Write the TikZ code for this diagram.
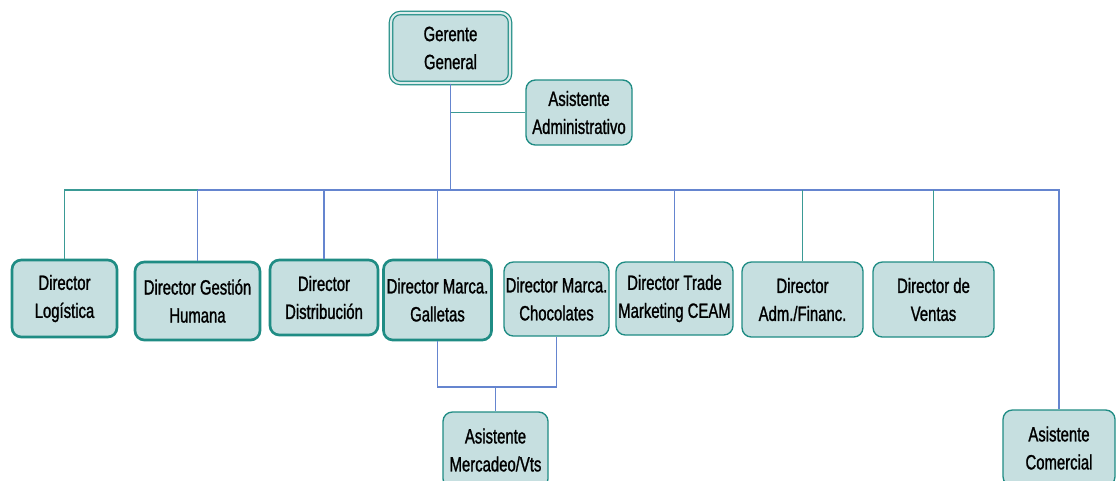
\documentclass[tikz,border=0pt]{standalone}
\usepackage{fontspec}
\setmainfont[FakeStretch=0.72,FakeBold=1.2]{Liberation Sans}
\definecolor{tealc}{HTML}{1F8C84}
\definecolor{linet}{HTML}{3A9A95}
\definecolor{lineb}{HTML}{6585CF}
\definecolor{boxc}{HTML}{C6DFE0}
\tikzset{
  box/.style={draw=tealc, fill=boxc, rounded corners=7pt, line width=1pt, align=center, inner sep=0pt,
    font=\fontsize{15.5}{21}\selectfont},
  thick box/.style={box, line width=2pt},
  sz/.style 2 args={minimum width={#1*0.75pt}, minimum height={#2*0.75pt}},
  tl/.style={draw=linet, line width=0.8pt},
  bl/.style={draw=lineb, line width=0.8pt},
}
\begin{document}
\begin{tikzpicture}[x=0.75pt,y=-0.75pt]
\clip (0,0) rectangle (1116,480);
\fill[white] (0,0) rectangle (1116,480);
% nodes
\node[box, sz={119}{70}, draw=tealc, double=boxc!60!white, double distance=1.6pt, line width=0.9pt] (gg) at (450.5,48) {Gerente\\General};
\node[box, sz={106}{65}] (aa) at (579,112.5) {Asistente\\Administrativo};
\node[thick box, sz={105}{77}] (d1) at (64.5,298.5) {Director\\Logística};
\node[thick box, sz={125}{78}] (d2) at (197.5,301) {Director Gestión\\Humana};
\node[thick box, sz={108}{75}] (d3) at (324,297.5) {Director\\Distribución};
\node[thick box, sz={108}{80}] (d4) at (437.5,300) {Director Marca.\\Galletas};
\node[box, sz={105}{74}] (d5) at (556.5,299) {Director Marca.\\Chocolates};
\node[box, sz={117}{73}] (d6) at (674.5,298.5) {Director Trade\\Marketing CEAM};
\node[box, sz={121}{75}] (d7) at (802.5,299.5) {Director\\Adm./Financ.};
\node[box, sz={121}{75}] (d8) at (933.5,299.5) {Director de\\Ventas};
\node[box, sz={105}{76}] (mv) at (495.5,450) {Asistente\\Mercadeo/Vts};
\node[box, sz={112}{76}] (ac) at (1059,448) {Asistente\\Comercial};
% connectors
\coordinate (bus) at (450.5,190);
\coordinate (busl) at (197.5,190);
\coordinate (jn) at (495.5,387);
\draw[bl] (gg.south) -- (bus);
\draw[tl] (gg.south |- aa.west) -- (aa.west);
\draw[tl] (d1.north) |- (busl);
\draw[bl, line width=2pt] (busl) -- (bus);
\draw[bl] (d2.north) -- (busl);
\draw[bl] (d3.north) -- (d3.north |- bus);
\draw[bl] (d4.north) -- (d4.north |- bus);
\draw[bl] (bus) -| (ac.north);
\draw[bl] (d6.north) -- (d6.north |- bus);
\draw[tl] (d7.north) -- (d7.north |- bus);
\draw[tl] (d8.north) -- (d8.north |- bus);
\draw[bl] (d4.south) |- (jn) -| (d5.south);
\draw[bl] (jn) -- (mv.north);
\end{tikzpicture}
\end{document}
